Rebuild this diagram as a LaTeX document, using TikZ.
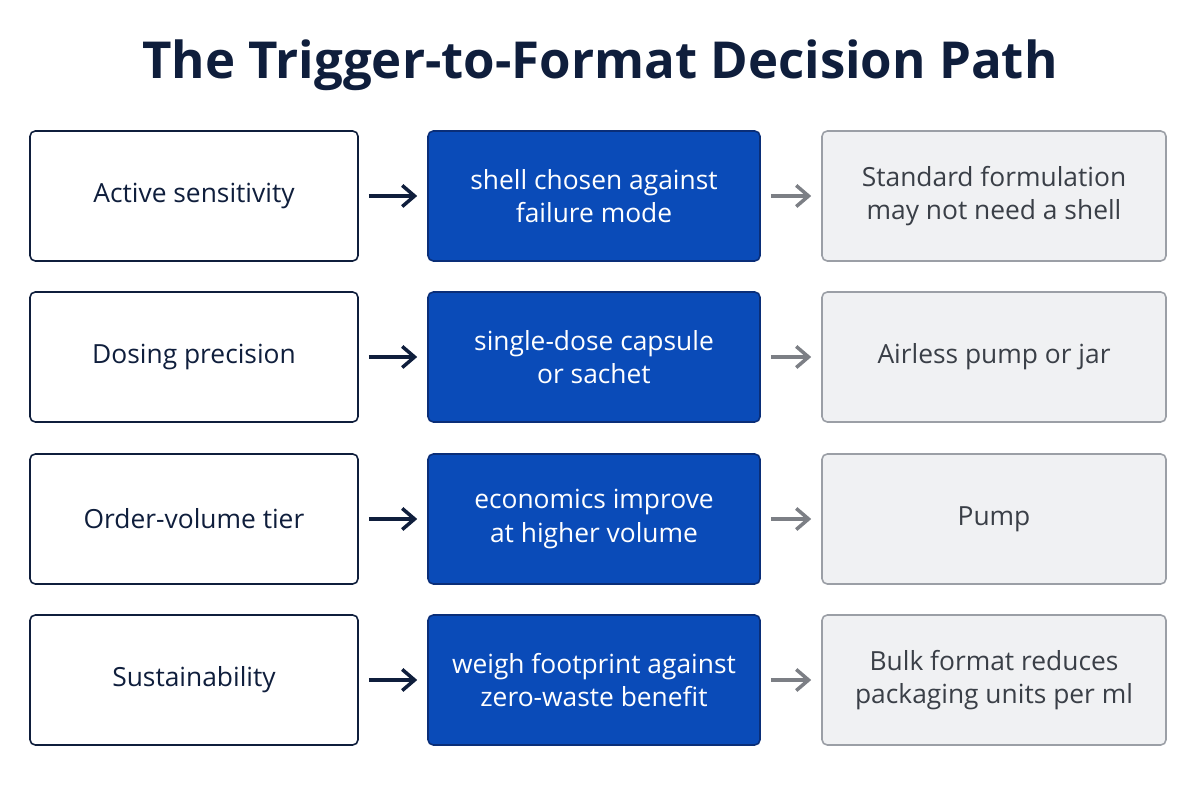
\documentclass[tikz,border=0pt]{standalone}
\usepackage{fontspec}
\setmainfont{Open Sans}
\usetikzlibrary{arrows.meta}
\definecolor{navy}{HTML}{0F1E3C}
\definecolor{boxblue}{HTML}{0A4BB8}
\definecolor{blueedge}{HTML}{0A2E78}
\definecolor{greyfill}{HTML}{F0F1F3}
\definecolor{greyedge}{HTML}{9B9FA6}
\definecolor{greytext}{HTML}{3A3F47}
\tikzset{
  box/.style = {rounded corners=3pt, minimum height=2.6cm, align=center, line width=0.9pt, font=\fontsize{15}{19}\selectfont},
  trigger/.style = {box, draw=navy, fill=white, text=navy, minimum width=6.56cm},
  format/.style = {box, draw=blueedge, fill=boxblue, text=white, minimum width=6.64cm},
  other/.style = {box, draw=greyedge, fill=greyfill, text=greytext, minimum width=6.88cm},
  darrow/.style = {-{Straight Barb[length=7pt,width=12pt]}, line width=2pt, navy},
  garrow/.style = {-{Straight Barb[length=7pt,width=12pt]}, line width=2pt, greyedge!80!black}
}
\begin{document}
\begin{tikzpicture}
  \useasboundingbox (0,0) rectangle (24,16);
  \node[font=\fontsize{29}{34}\selectfont\bfseries, text=navy] (title) at (12,14.7) {The Trigger-to-Format Decision Path};
  % four rows: trigger, shell format, alternative
  \foreach \i/\y/\ta/\tb/\tc in {
      1/12.08/Active sensitivity/shell chosen against\\failure mode/Standard formulation\\may not need a shell,
      2/8.86/Dosing precision/single-dose capsule\\or sachet/Airless pump or jar,
      3/5.62/Order-volume tier/economics improve\\at higher volume/Pump/jar tooling costs\\more forgiving,
      4/2.4/Sustainability/weigh footprint against\\zero-waste benefit/Bulk format reduces\\packaging units per ml} {
    \node[trigger] (a\i) at (3.88,\y) {\ta};
    \node[format] (b\i) at (11.88,\y) {\tb};
    \node[other] (c\i) at (19.88,\y) {\tc};
    \draw[darrow] ([xshift=0.2cm]a\i.east) -- ([xshift=-0.2cm]b\i.west);
    \draw[garrow] ([xshift=0.2cm]b\i.east) -- ([xshift=-0.2cm]c\i.west);
  }
\end{tikzpicture}
\end{document}
